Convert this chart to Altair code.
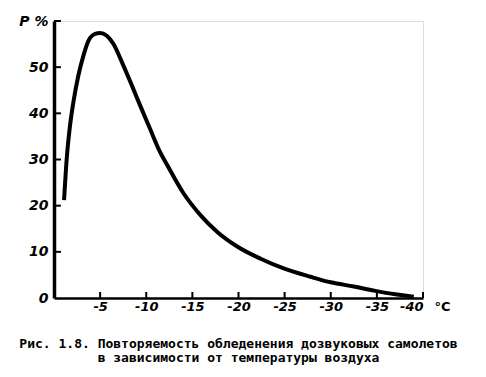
import altair as alt
import pandas as pd

# curve
temps = [-1.09, -1.38, -1.74, -2.1, -2.64, -3.19, -3.73, -4.46, -5.0, -5.72, -6.45,
         -7.36, -8.45, -9.4, -10.4, -11.5, -12.3, -14.0, -15.9, -17.7, -19.9,
         -22.4, -24.9, -27.8, -30.0, -32.5, -34.7, -37.0, -39.0]
probs = [21.2, 30.2, 37.4, 42.4, 48.2, 52.5, 55.7, 57.2, 57.4, 56.8, 55.0,
         51.1, 46.0, 41.4, 36.7, 31.6, 28.7, 22.8, 17.9, 14.3, 11.1,
         8.5, 6.4, 4.6, 3.4, 2.5, 1.6, 0.8, 0.3]

x_ticks = [-5, -10, -15, -20, -25, -30, -35, -40]
y_ticks = [0, 10, 20, 30, 40, 50, 60]

caption = ["Рис. 1.8. Повторяемость обледенения дозвуковых самолетов",
           "в зависимости от температуры воздуха"]

df = pd.DataFrame({"t": temps, "p": probs})
xt = pd.DataFrame({"tt": x_ticks, "ya": [0.0] * len(x_ticks), "yb": [1.3] * len(x_ticks)})
yt = pd.DataFrame({"pp": y_ticks[1:], "xa": [0.0] * (len(y_ticks) - 1), "xb": [-0.75] * (len(y_ticks) - 1)})

xscale = alt.Scale(domain=[0, -40], nice=False, zero=False)
yscale = alt.Scale(domain=[0, 60], nice=False)

xaxis = alt.Axis(values=x_ticks, labelExpr="'-' + abs(datum.value)", ticks=False,
                 domainColor="black", domainWidth=2.5, grid=False,
                 labelFont="DejaVu Sans", labelFontSize=13, labelFontWeight="bold",
                 labelFontStyle="italic", labelColor="black", labelPadding=2,
                 title="°C", titleX=380, titleY=12, titleAlign="left",
                 titleBaseline="alphabetic", titleFont="DejaVu Sans",
                 titleFontSize=13, titleFontWeight="bold", titleColor="black")
yaxis = alt.Axis(values=y_ticks, labelExpr="datum.value == 60 ? 'P %' : datum.label",
                 ticks=False, domainColor="black", domainWidth=3.5, grid=False,
                 labelFont="DejaVu Sans", labelFontSize=14, labelFontWeight="bold",
                 labelFontStyle="italic", labelColor="black", labelPadding=6,
                 title=None)

line = alt.Chart(df).mark_line(color="black", strokeWidth=4, interpolate="monotone").encode(
    x=alt.X("t:Q", scale=xscale, axis=xaxis),
    y=alt.Y("p:Q", scale=yscale, axis=yaxis),
)

xt_rules = alt.Chart(xt).mark_rule(color="black", strokeWidth=2).encode(
    x=alt.X("tt:Q"), y=alt.Y("ya:Q"), y2=alt.Y2("yb:Q"))
yt_rules = alt.Chart(yt).mark_rule(color="black", strokeWidth=2).encode(
    y=alt.Y("pp:Q"), x=alt.X("xa:Q"), x2=alt.X2("xb:Q"))

chart = alt.layer(line, xt_rules, yt_rules).properties(
    width=369, height=277,
    autosize=alt.AutoSizeParams(type="none"),
    padding={"left": 46, "top": 13, "right": 55, "bottom": 70},
    title=alt.TitleParams(text=caption, orient="bottom", anchor="middle",
                          font="DejaVu Sans Mono", fontSize=13, fontWeight="bold",
                          color="black", offset=25, lineHeight=14),
).configure_view(stroke=None).configure(background="white")

chart.save("out.html", embed_options={"renderer": "svg", "actions": False})
